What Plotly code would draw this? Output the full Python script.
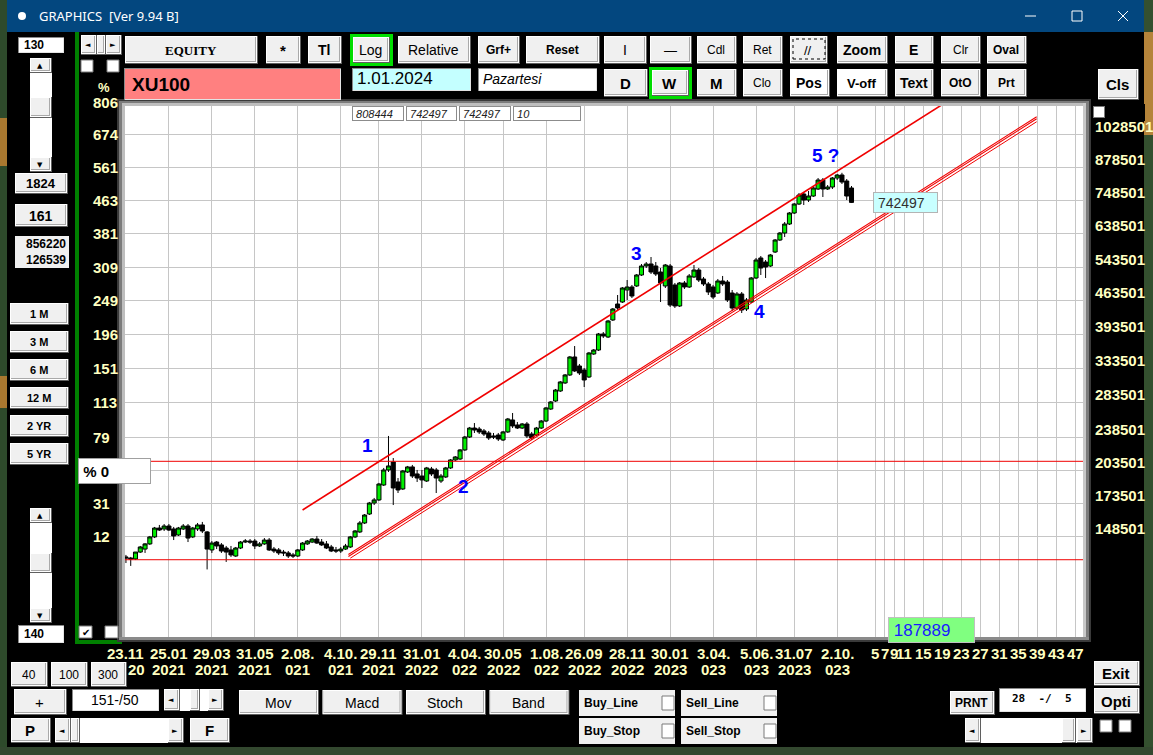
import math
import plotly.graph_objects as go

# XU100 weekly bars, week 0 = 23.11.2020 (index points x100)
weeks = list(range(153))
opens = [134400, 133700, 133100, 137600, 139600, 143100, 148000, 154500, 153800, 156000,
         153800, 149400, 153800, 156000, 148000, 153800, 156800, 151600, 139000, 144400,
         142400, 140300, 139000, 135000, 140300, 144400, 145100, 145100, 141700, 143100,
         145800, 139600, 139000, 137600, 137000, 135700, 135000, 139000, 143100, 144400,
         146500, 144400, 143100, 141000, 139000, 138300, 139600, 141000, 148000, 151600,
         158300, 165300, 174300, 176900, 190100, 204400, 212400, 192900, 186500, 202400,
         207400, 200500, 198500, 193800, 205400, 204400, 193800, 197600, 206400, 214500,
         215500, 225100, 239600, 250200, 249000, 246700, 244300, 240800, 241900, 236200,
         245500, 260100, 253900, 250200, 255100, 243100, 241900, 250200, 258800, 274200,
         285000, 299100, 310900, 323100, 352400, 337400, 331000, 320000, 357500, 364400,
         393700, 388000, 421200, 454900, 459300, 486700, 493800, 496200, 523200, 546400,
         551700, 546400, 530800, 496200, 546400, 498600, 450600, 503400, 493800, 518200,
         535900, 513200, 501000, 493800, 479700, 508300, 505800, 479700, 446200, 477400,
         444100, 459300, 515700, 567900, 557000, 546400, 584500, 619300, 640600, 669000,
         705400, 736700, 773100, 751000, 765600, 791900, 827000, 791900, 799600, 835100,
         847200, 823100, 795800]
highs = [135700, 134400, 137600, 141700, 143700, 148700, 155300, 156800, 157500, 157500,
         155300, 155300, 157500, 157500, 155300, 158300, 159100, 152300, 145100, 145100,
         143700, 141700, 141700, 141000, 145100, 146500, 146500, 146500, 144400, 147200,
         147200, 141000, 140300, 139000, 138300, 137000, 139600, 144400, 145800, 147200,
         148700, 146500, 145100, 142400, 141000, 141000, 143100, 148700, 153000, 159800,
         165300, 175200, 178600, 192000, 206400, 240800, 216500, 196600, 204400, 208400,
         209400, 204400, 204400, 207400, 207400, 206400, 200500, 207400, 215500, 218600,
         226100, 240800, 251500, 256300, 251500, 249000, 246700, 244300, 244300, 246700,
         262600, 269000, 257600, 256300, 257600, 245500, 251500, 260100, 276900, 285000,
         302000, 313900, 324600, 354100, 371500, 340700, 334200, 361000, 366200, 395600,
         397500, 421200, 446200, 475100, 493800, 510700, 498600, 525700, 551700, 557000,
         570600, 557000, 541100, 551700, 551700, 503400, 505800, 508300, 525700, 549000,
         541100, 518200, 505800, 498600, 513200, 520700, 510700, 486700, 482000, 482000,
         468300, 518200, 567900, 573400, 562400, 578900, 622300, 643700, 675500, 708800,
         740200, 776800, 780500, 784300, 803500, 835100, 835100, 807300, 839100, 851300,
         856220, 831000, 803500]
lows = [130500, 128700, 132400, 137000, 137000, 142400, 147200, 152300, 152300, 152300,
        145800, 148700, 153000, 144400, 147200, 152300, 150800, 126539, 137000, 139600,
        137000, 131200, 134400, 134400, 139600, 143700, 143100, 139600, 141000, 142400,
        138300, 137000, 135700, 135000, 133700, 133700, 134400, 138300, 142400, 143700,
        143100, 141700, 139600, 137600, 137000, 137000, 139000, 140300, 147200, 150800,
        157500, 164500, 172600, 176000, 189200, 202400, 172600, 182900, 185600, 201400,
        196600, 192900, 187400, 192900, 198500, 182900, 192000, 196600, 205400, 213400,
        214500, 224000, 238500, 244300, 243100, 240800, 236200, 237300, 235000, 235000,
        244300, 250200, 249000, 249000, 238500, 236200, 240800, 249000, 257600, 272900,
        283700, 297700, 309400, 321500, 327800, 323100, 304900, 318400, 355800, 362700,
        386100, 386100, 419100, 442000, 457100, 463800, 468300, 493800, 520700, 541100,
        525700, 520700, 459300, 491400, 448400, 446200, 448400, 489000, 491400, 515700,
        505800, 496200, 475100, 466000, 477400, 496200, 459300, 439800, 442000, 435600,
        439800, 457100, 513200, 523200, 515700, 543700, 581700, 616400, 628300, 665800,
        702000, 733100, 733100, 743800, 762000, 788100, 762000, 788100, 791900, 827000,
        811300, 751000, 740200]
closes = [133700, 133100, 137600, 141000, 143100, 148000, 154500, 153000, 156000, 153000,
          148700, 154500, 156000, 147200, 154500, 156800, 152300, 139600, 143700, 141700,
          138300, 137600, 135700, 140300, 144400, 145100, 144400, 141700, 143100, 145800,
          139000, 138300, 137000, 137000, 135000, 135000, 139000, 143700, 145100, 146500,
          143700, 142400, 140300, 138300, 138300, 139600, 141700, 148000, 152300, 158300,
          164500, 174300, 176900, 191000, 204400, 208400, 187400, 185600, 203400, 207400,
          198500, 196600, 194800, 206400, 200500, 196600, 198500, 206400, 214500, 217600,
          225100, 239600, 250200, 247800, 245500, 243100, 238500, 239600, 237300, 245500,
          261300, 252700, 250200, 255100, 240800, 238500, 250200, 258800, 275600, 283700,
          300500, 312400, 323100, 352400, 329400, 326200, 315400, 359200, 364400, 393700,
          389900, 419100, 444100, 446200, 491400, 493800, 472800, 523200, 546400, 551700,
          530800, 525700, 503400, 549000, 452700, 450600, 503400, 493800, 520700, 535900,
          510700, 501000, 482000, 470500, 508300, 501000, 463800, 446200, 477400, 442000,
          463800, 515700, 562400, 541100, 543700, 576100, 619300, 640600, 669000, 705400,
          736700, 769300, 751000, 765600, 795800, 827000, 791900, 799600, 835100, 847200,
          819100, 765600, 742497]

# x axis labels (week numbers); first year label is mostly hidden behind the "300" button
date_weeks = [0, 9, 18, 27, 36, 45, 53, 62, 71, 79, 88, 96, 105, 114, 123, 132, 140, 149]
date_top = ["23.11", "25.01", "29.03", "31.05", "2.08.", "4.10.", "29.11", "31.01", "4.04.",
            "30.05", "1.08.", "26.09", "28.11", "30.01", "3.04.", "5.06.", "31.07", "2.10."]
date_bottom = ["20", "2021", "2021", "2021", "021", "021", "2021", "2022", "022",
               "2022", "022", "2022", "2022", "2023", "023", "023", "2023", "023"]
future_weeks = [157, 159, 161, 163, 167, 171, 175, 179, 183, 187, 191, 195, 199]
future_labels = ["5", "7", "9", "11", "15", "19", "23", "27", "31", "35", "39", "43", "47"]

# y axis: price levels (right) and % change labels (left, "" where the "% 0" box hides it)
price_levels = [148501, 173501, 203501, 238501, 283501, 333501, 393501, 463501,
                543501, 638501, 748501, 878501, 1028501]
pct_labels = ["12", "31", "", "79", "113", "151", "196", "249", "309", "381", "463", "561", "674"]
top_pct = "806"

# channel drawn on the chart
upper_weeks = [37.0, 171.2]
upper_values = [168500, 1193000]
lower_weeks = [46.6, 190.8]
lower_values_a = [136000, 1121700]
lower_values_b = [134700, 1110900]
lower_thin_weeks = [47.0, 190.8]
lower_thin_values = [133600, 1095400]
level_values = [213100, 132600]

wave_text = ["1", "2", "3", "4", "5 ?"]
wave_weeks = [50.5, 70.8, 106.9, 132.8, 146.6]
wave_values = [230000, 188300, 580300, 439800, 932900]

info_values = ["808444", "742497", "742497", "10"]
last_value = "742497"
green_value = "187889"

X_LO, X_HI = -0.2, 200.5
Y_LO, Y_HI = 91360, 1181600

SANS = "Liberation Sans, Arial, sans-serif"
NARROW = "Liberation Sans Narrow, Arial Narrow, Liberation Sans, sans-serif"
SERIF = "Liberation Serif, Times New Roman, serif"
UI = "Noto Sans, Open Sans, sans-serif"
YEL = "#FFFFC0"
RED = "#F00000"

W, H = 1153, 755
PL, PR, PT, PB = 125, 1083, 106, 637


def px(x):
    return (x - PL) / (PR - PL)


def py(y):
    return (PB - y) / (PB - PT)


shapes = []
annots = []


def rect(x0, y0, x1, y1, fill, line=None, lw=1, dash="solid"):
    shapes.append(dict(type="rect", xref="paper", yref="paper", layer="above",
                       x0=px(x0), x1=px(x1), y0=py(y1), y1=py(y0), fillcolor=fill,
                       line=dict(color=line if line else "rgba(0,0,0,0)",
                                 width=lw if line else 0, dash=dash)))


def seg(x0, y0, x1, y1, color, lw=1):
    shapes.append(dict(type="line", xref="paper", yref="paper", layer="above",
                       x0=px(x0), x1=px(x1), y0=py(y0), y1=py(y1),
                       line=dict(color=color, width=lw)))


def font(size, color="black", bold=False, italic=False, family=SANS):
    return dict(family=family, size=size, color=color,
                weight="bold" if bold else "normal",
                style="italic" if italic else "normal")


def label(x, y, s, size=13, color="black", bold=False, italic=False, family=SANS, anchor="center"):
    annots.append(dict(xref="paper", yref="paper", x=px(x), y=py(y), text=s,
                       showarrow=False, xanchor=anchor, yanchor="middle",
                       font=font(size, color, bold, italic, family)))


def button(x0, y0, x1, y1, s, size=13, bold=True, family=SANS, face="#F0F0F0"):
    rect(x0, y0, x1, y1, "#5F5F5F")
    rect(x0, y0, x1 - 1, y1 - 1, "#FFFFFF")
    rect(x0 + 1, y0 + 1, x1 - 2, y1 - 2, "#A9A9A9")
    rect(x0 + 1, y0 + 1, x1 - 3, y1 - 3, face)
    if s:
        label((x0 + x1) / 2 - 1, (y0 + y1) / 2, s, size, "black", bold, family=family)


def field(x0, y0, x1, y1, fill="#FFFFFF"):
    rect(x0, y0, x1, y1, "#8A8A8A")
    rect(x0 + 1, y0 + 1, x1, y1, "#E3E3E3")
    rect(x0 + 1, y0 + 1, x1 - 1, y1 - 1, fill)


def checkbox(x0, y0, x1, y1, ticked=False):
    rect(x0, y0, x1, y1, "#FFFFFF", "#7A7A7A")
    if ticked:
        label((x0 + x1) / 2, (y0 + y1) / 2, "✔", 10, "black", family="DejaVu Sans")


def box(x0, y0, x1, y1, s, bg, size=12, color="black", bold=False, italic=False,
        family=SANS, align="left", border="#8C8C8C"):
    annots.append(dict(xref="paper", yref="paper", x=px(x0), y=py(y0),
                       xanchor="left", yanchor="top", width=x1 - x0 - 2, height=y1 - y0 - 2,
                       text=s, showarrow=False, align=align, valign="middle",
                       bgcolor=bg, bordercolor=border, borderwidth=1, borderpad=0,
                       font=font(size, color, bold, italic, family)))


def vscroll(x0, y0, x1, y1, t0, t1):
    rect(x0, y0, x1, y1, "#FFFFFF")
    button(x0, y0, x1, y0 + 15, "▲", 7, False, "DejaVu Sans")
    button(x0, y1 - 15, x1, y1, "▼", 7, False, "DejaVu Sans")
    button(x0, t0, x1, t1, "")


def hscroll(x0, y0, x1, y1, t0, t1):
    rect(x0, y0, x1, y1, "#FFFFFF")
    button(x0, y0, x0 + 16, y1, "◄", 7, False, "DejaVu Sans")
    button(x1 - 16, y0, x1, y1, "►", 7, False, "DejaVu Sans")
    button(t0, y0, t1, y1, "")


# ---------------- window chrome ----------------
rect(0, 0, 7, 755, "#2E4A2B")
rect(0, 118, 7, 166, "#A9782F")
rect(0, 376, 7, 408, "#A9782F")
rect(1144, 0, 1153, 755, "#34502F")
rect(1144, 32, 1153, 135, "#B5843A")
rect(0, 747, 1153, 755, "#33482F")
rect(7, 0, 1144, 32, "#03477F")
shapes.append(dict(type="circle", xref="paper", yref="paper", layer="above",
                   x0=px(18), x1=px(26), y0=py(20), y1=py(12),
                   fillcolor="white", line=dict(width=0)))
label(37, 16, "GRAPHICS  [Ver 9.94 B]", 13, "white", family=UI, anchor="left")
seg(1025, 16, 1036, 16, "white")
rect(1072, 11, 1082, 21, "rgba(0,0,0,0)", "white")
seg(1118, 11, 1128, 21, "white")
seg(1118, 21, 1128, 11, "white")

# green border of the chart panel
rect(75, 32, 79, 644, "#008000")
rect(75, 640, 122, 644, "#008000")

# frame around plot area
rect(117, 99, 1091, 106, "#3A3A3A")
rect(119, 101, 1089, 106, "#7C7C7C")
rect(121, 103, 1087, 106, "#BEBEBE")
rect(117, 99, 125, 642, "#3A3A3A")
rect(119, 101, 125, 640, "#7C7C7C")
rect(122, 103, 125, 638, "#BEBEBE")
rect(1083, 99, 1091, 642, "#3A3A3A")
rect(1083, 101, 1089, 640, "#7C7C7C")
rect(1083, 103, 1086, 638, "#C8C8C8")
rect(117, 637, 1091, 642, "#3A3A3A")
rect(119, 637, 1089, 640, "#8A8A8A")

# left column
field(18, 37, 64, 53)
label(22, 45, "130", 12, bold=True, anchor="left")
vscroll(30, 58, 52, 172, 97, 118)
button(15, 173, 68, 194, "1824", 13)
button(15, 204, 68, 227, "161", 14)
rect(15, 236, 69, 268, "#F0F0F0")
label(68, 244, "856220", 12, bold=True, anchor="right")
label(68, 260, "126539", 12, bold=True, anchor="right")
for i, s in enumerate(["1 M", "3 M", "6 M", "12 M", "2 YR", "5 YR"]):
    y0 = 303 + 28 * i
    button(10, y0, 69, y0 + 22, s, 11)
vscroll(30, 508, 52, 623, 553, 573)
field(18, 625, 64, 643)
label(22, 634, "140", 12, bold=True, anchor="left")

# small controls at top of chart panel
hscroll(81, 35, 122, 55, 97, 106)
checkbox(81, 60, 93, 72)
checkbox(107, 60, 119, 72)
checkbox(79, 626, 92, 638, True)
checkbox(105, 626, 118, 638)

# toolbar row 1
rect(350, 34, 393, 66, "#00DD00")
row1 = [(125, 258, "EQUITY", 13, True, SERIF), (266, 301, "*", 15, True, SANS),
        (308, 342, "Tl", 14, True, SANS), (353, 390, "Log", 14, False, SANS),
        (398, 471, "Relative", 14, False, SANS), (478, 520, "Grf+", 12, True, SANS),
        (526, 600, "Reset", 12, True, SANS), (604, 647, "I", 14, False, SANS),
        (650, 692, "—", 13, False, SANS), (697, 737, "Cdl", 12, False, SANS),
        (743, 783, "Ret", 12, False, SANS), (790, 828, "//", 13, False, SANS),
        (837, 888, "Zoom", 14, True, SANS), (895, 934, "E", 14, True, SANS),
        (941, 981, "Clr", 12, False, SANS), (987, 1027, "Oval", 12, True, SANS)]
for x0, x1, s, sz, b, fam in row1:
    if s == "Log":
        button(x0, 37, x1, 63, s, sz, b, fam)
    else:
        button(x0, 36, x1, 64, s, sz, b, fam)
rect(793, 39, 825, 59, "rgba(0,0,0,0)", "black", 1, "dot")

# toolbar row 2
field(124, 68, 341, 100, "#FF8080")
label(130, 84, "XU100", 19, bold=True, anchor="left")
field(352, 68, 471, 91, "#C4FFFF")
label(355, 79, "1.01.2024", 17, anchor="left")
field(478, 68, 597, 91)
label(481, 79, "Pazartesi", 14, italic=True, anchor="left")
rect(649, 67, 692, 99, "#00DD00")
row2 = [(604, 648, "D", 15, True, "#F0F0F0"), (652, 689, "W", 15, True, "#F0F0F0"),
        (697, 737, "M", 15, True, "#F0F0F0"), (743, 783, "Clo", 12, False, "#F0F0F0"),
        (790, 830, "Pos", 14, True, "#FFFFFF"), (837, 888, "V-off", 13, True, "#FFFFFF"),
        (895, 934, "Text", 14, True, "#F0F0F0"), (941, 981, "OtO", 12, True, "#F0F0F0"),
        (987, 1027, "Prt", 12, True, "#F0F0F0")]
for x0, x1, s, sz, b, face in row2:
    if s == "W":
        button(x0, 70, x1, 96, s, sz, b, face=face)
    else:
        button(x0, 69, x1, 97, s, sz, b, face=face)
button(1098, 69, 1139, 100, "Cls", 15)

# bottom controls
button(14, 689, 67, 715, "+", 15, False)
field(72, 689, 159, 711)
label(115, 700, "151-/50", 14)
hscroll(164, 689, 224, 711, 190, 200)
button(11, 718, 51, 743, "P", 15)
hscroll(55, 718, 184, 743, 71, 80)
button(190, 718, 230, 743, "F", 15)
for i, s in enumerate(["Mov", "Macd", "Stoch", "Band"]):
    x0 = 239 + 83.5 * i
    button(x0, 690, x0 + 80, 715, s, 14, False)
for x0, y0, s in [(579, 690, "Buy_Line"), (681, 690, "Sell_Line"),
                  (579, 718, "Buy_Stop"), (681, 718, "Sell_Stop")]:
    rect(x0, y0, x0 + 96, y0 + 26, "#F0F0F0")
    label(x0 + 3, y0 + 13, s, 12, bold=True, anchor="left")
    checkbox(x0 + 83, y0 + 6, x0 + 95, y0 + 20)
button(950, 691, 995, 715, "PRNT", 12)
field(999, 688, 1086, 712)
label(1042, 699, "28  -/  5", 11, bold=True, family="DejaVu Sans Mono, Liberation Mono, monospace")
button(1094, 661, 1140, 686, "Exit", 15)
button(1094, 688, 1140, 714, "Opti", 15)
hscroll(965, 718, 1093, 743, 1062, 1076)
checkbox(1100, 720, 1112, 732)
checkbox(1119, 720, 1131, 732)
for x0, x1, s in [(11, 48, "40"), (51, 88, "100"), (91, 127, "300")]:
    button(x0, 662, x1, 687, s, 12, False)

# ---------------- chart ----------------
fig = go.Figure()
fig.add_trace(go.Candlestick(
    x=weeks, open=opens, high=highs, low=lows, close=closes,
    increasing=dict(fillcolor="#00EE00", line=dict(color="black", width=1)),
    decreasing=dict(fillcolor="black", line=dict(color="black", width=1)),
    whiskerwidth=0, hoverinfo="skip"))


def red_line(xs, ys, w):
    fig.add_trace(go.Scatter(x=xs, y=ys, mode="lines", hoverinfo="skip",
                             line=dict(color=RED, width=w)))


red_line(upper_weeks, upper_values, 1.6)
red_line(lower_weeks, lower_values_a, 1.1)
red_line(lower_weeks, lower_values_b, 1.1)
red_line(lower_thin_weeks, lower_thin_values, 1)
for v in level_values:
    red_line([X_LO, X_HI], [v, v], 1)

# axis labels
for v, t in zip(price_levels, pct_labels):
    if t:
        annots.append(dict(xref="paper", yref="y", x=px(91), y=math.log10(v), text=t,
                           showarrow=False, xanchor="left", yanchor="middle",
                           font=font(15, YEL, True, family=NARROW)))
label(91, 103, top_pct, 15, YEL, True, family=NARROW, anchor="left")
label(96, 87, "%", 13, YEL, True, family=NARROW, anchor="left")
for v in price_levels:
    annots.append(dict(xref="paper", yref="y", x=px(1093), y=math.log10(v), text=str(v),
                       showarrow=False, xanchor="left", yanchor="middle", yshift=8,
                       font=font(15, YEL, True, family=NARROW)))
for i, (wk, a, b) in enumerate(zip(date_weeks, date_top, date_bottom)):
    annots.append(dict(xref="x", yref="paper", x=wk, y=py(653), text=a, showarrow=False,
                       xanchor="center", yanchor="middle", font=font(15, YEL, True, family=NARROW)))
    annots.append(dict(xref="x", yref="paper", x=wk, y=py(669), text=b, showarrow=False,
                       xanchor="left" if i == 0 else "center", yanchor="middle",
                       font=font(15, YEL, True, family=NARROW)))
for wk, a in zip(future_weeks, future_labels):
    annots.append(dict(xref="x", yref="paper", x=wk, y=py(653), text=a, showarrow=False,
                       xanchor="center", yanchor="middle", font=font(15, YEL, True, family=NARROW)))

# wave counts
for t, wk, v in zip(wave_text, wave_weeks, wave_values):
    annots.append(dict(xref="x", yref="y", x=wk, y=math.log10(v), text=t, showarrow=False,
                       xanchor="center", yanchor="middle", font=font(19, "#0000FF", True)))

# boxes drawn over everything
NB = "\u00a0"
for (x0, x1), s in zip([(352, 404), (406, 457), (459, 511), (513, 581)], info_values):
    box(x0, 106, x1, 121, NB + s, "#FFFFFF", 11, "#202020", italic=True)
box(873, 192, 938, 213, NB + last_value, "#C8FFFF", 14, "#303030", border="#B4B4B4")
box(888, 617, 975, 643, NB + green_value, "#80FF80", 17, "#1A1AFF", border="#C0C0C0")
box(78, 458, 151, 484, NB + "% 0", "#FFFFFF", 15, "black", bold=True, border="#A0A0A0")
box(1091, 104, 1145, 121, "", "black", border="black")
box(1093, 106, 1105, 118, "", "#FFFFFF", border="#7A7A7A")

fig.update_layout(
    width=W, height=H, autosize=False,
    margin=dict(l=PL, r=W - PR, t=PT, b=H - PB, pad=0),
    paper_bgcolor="black", plot_bgcolor="white", showlegend=False,
    boxgap=0.15, boxgroupgap=0,
    xaxis=dict(range=[X_LO, X_HI], tickvals=date_weeks + future_weeks, showticklabels=False,
               showgrid=True, gridcolor="#C6C6C6", gridwidth=1, zeroline=False,
               showline=False, ticks="", rangeslider=dict(visible=False), fixedrange=True),
    yaxis=dict(type="log", range=[math.log10(Y_LO), math.log10(Y_HI)], tickvals=price_levels,
               showticklabels=False, showgrid=True, gridcolor="#C6C6C6", gridwidth=1,
               zeroline=False, showline=False, ticks="", fixedrange=True),
    shapes=shapes, annotations=annots,
)

fig.write_html("out.html", config={"displayModeBar": False},
               post_script="document.body.style.margin='0px';")
